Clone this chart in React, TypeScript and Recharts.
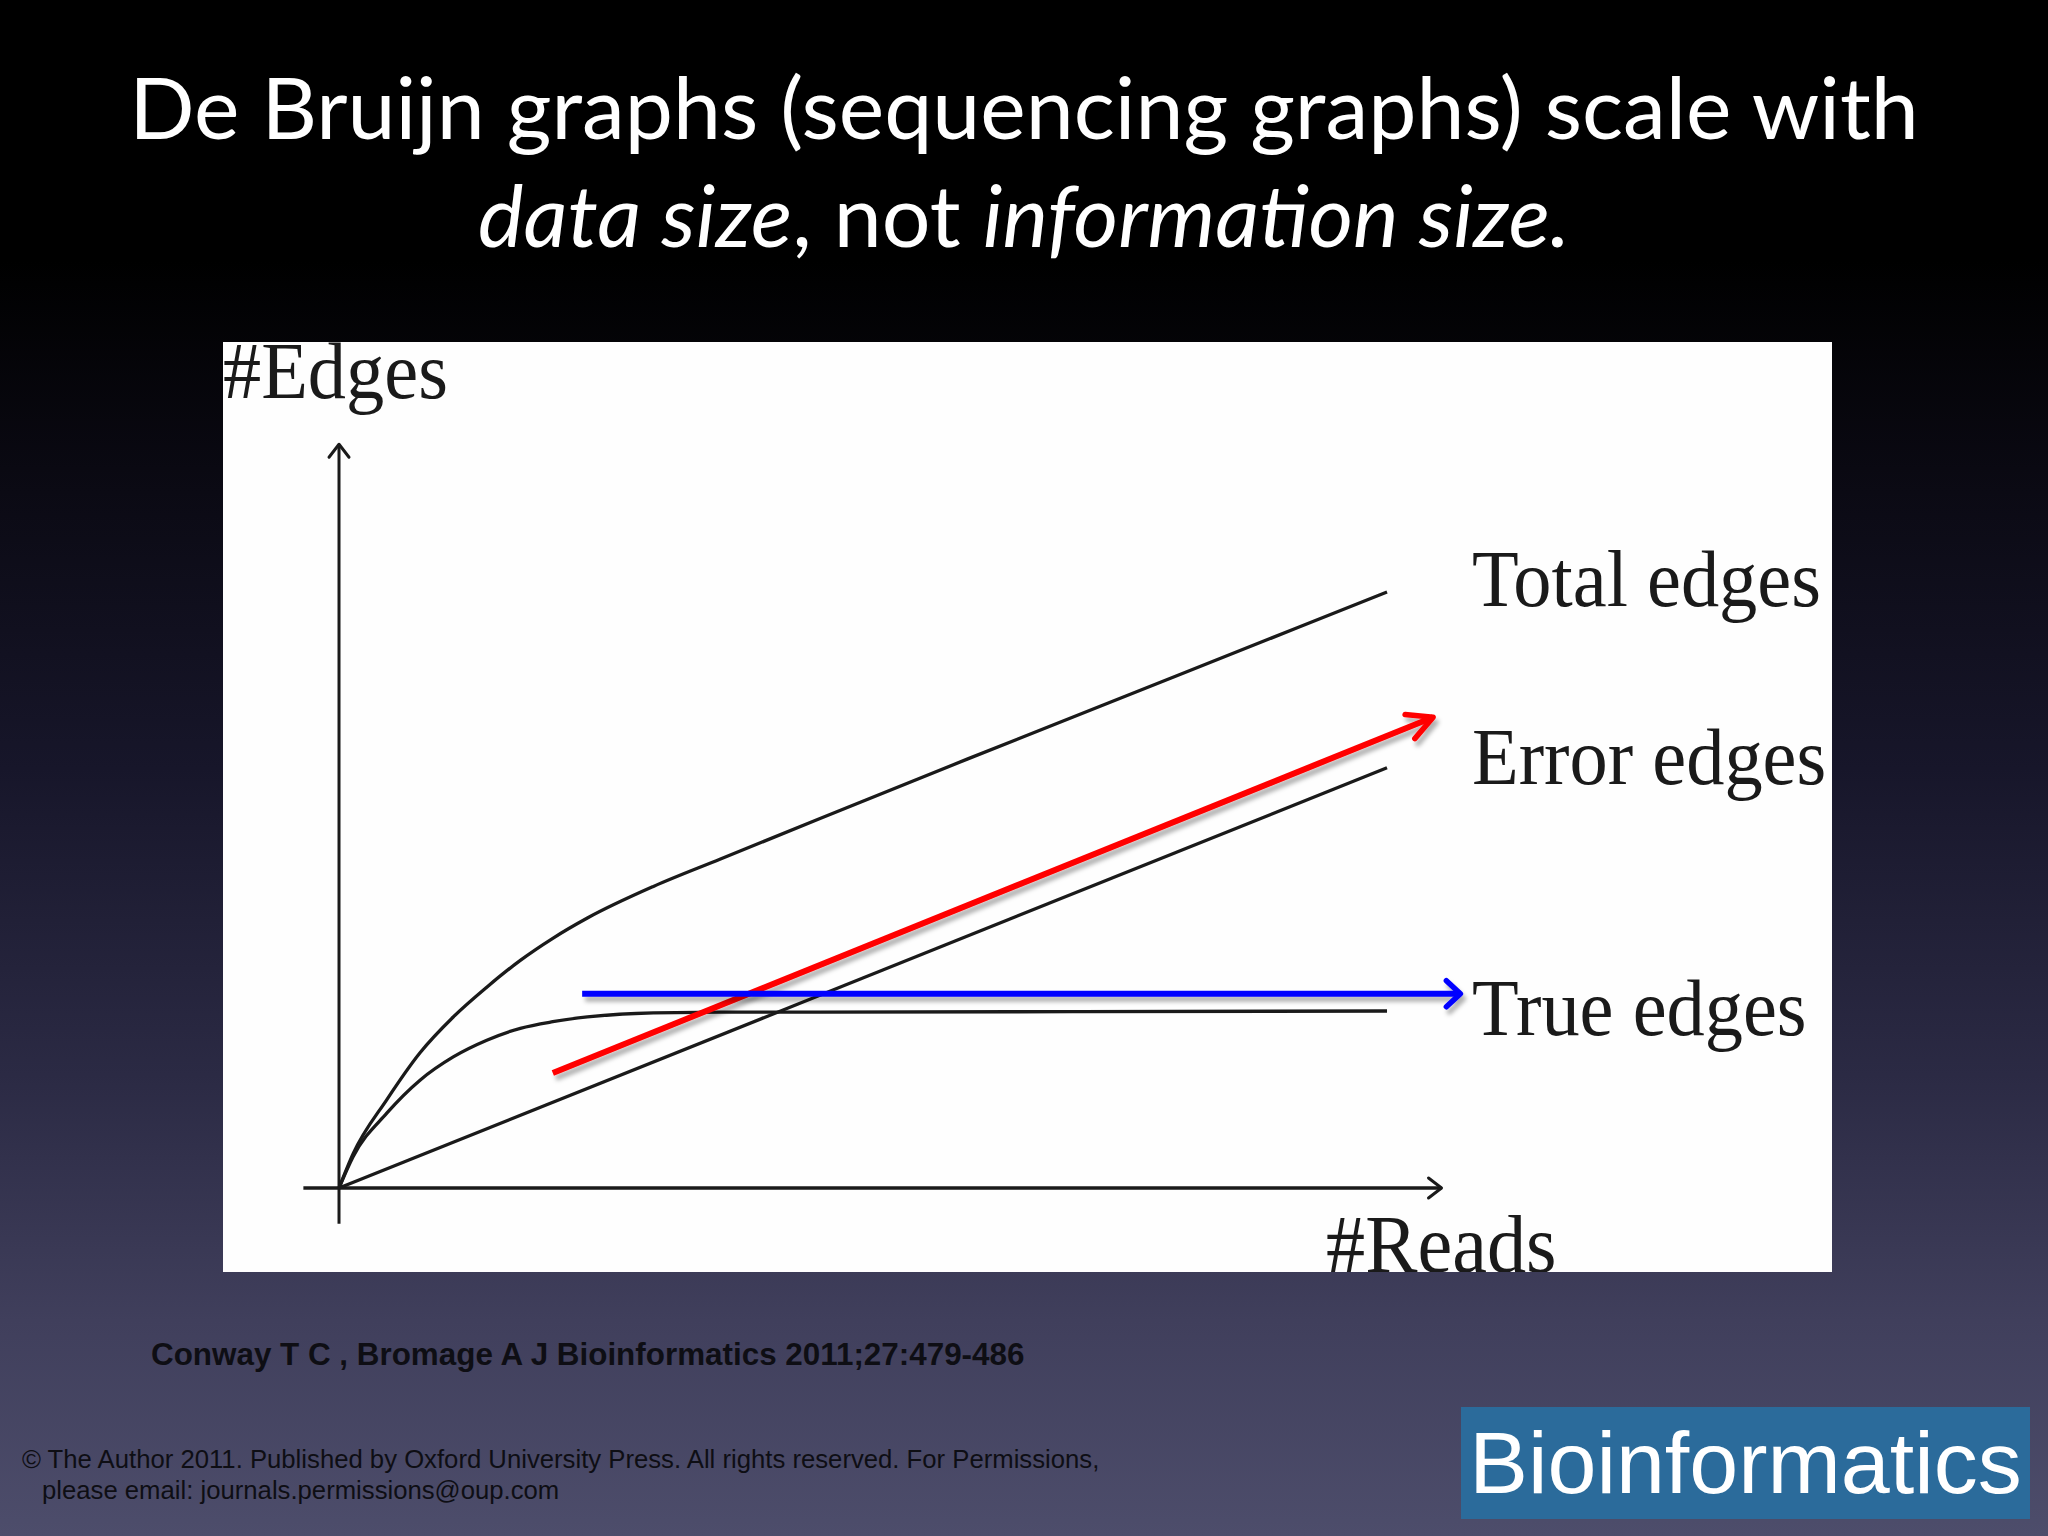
import React from 'react';
import { LineChart, Line, XAxis, YAxis } from 'recharts';

// reads (x) and edges (y), in units where the curves end at x=100 and total edges at y=100
const totalX = [0, 1.36, 4.55, 7.73, 10.9, 14.1, 17.3, 20.4, 23.7, 30.0, 36.4, 45.9, 60, 80, 100];
const totalY = [0, 5.8, 14.8, 22.7, 28.7, 33.7, 38.2, 41.9, 45.3, 50.6, 55.2, 62.0, 72.0, 86.0, 100];

const trueX = [0, 1.33, 4.58, 7.73, 10.9, 14.1, 17.3, 20.4, 23.7, 30.0, 36.4, 45.9, 70, 100];
const trueY = [0, 5.2, 12.6, 18.1, 22.0, 24.8, 26.8, 27.9, 28.7, 29.4, 29.5, 29.5, 29.6, 29.7];

const errorX = [0, 100];
const errorY = [0, 70.5];

// annotation arrows drawn over the figure
const redX = [20.4, 104.4];
const redY = [19.3, 79.0];
const blueX = [23.2, 107.0];
const blueY = [32.6, 32.6];

// axis lines (they cross a little past the origin)
const xAxisX = [-3.4, 105.2];
const xAxisY = [0, 0];
const yAxisX = [0, 0];
const yAxisY = [-6.0, 124.8];

const labels = ['Total edges', 'Error edges', 'True edges'];

const toRows = (xs: number[], ys: number[]) => xs.map((x, i) => ({ x, y: ys[i] }));

const serif = '"Liberation Serif", "Times New Roman", serif';
const sans = '"Liberation Sans", Arial, sans-serif';

const Chevron = ({ id, color, len, half, width }: { id: string; color: string; len: number; half: number; width: number }) => (
  <marker
    id={id}
    markerUnits="userSpaceOnUse"
    viewBox="-40 -30 50 60"
    markerWidth={50}
    markerHeight={60}
    refX={0}
    refY={0}
    orient="auto"
  >
    <path
      d={`M${-len},${-half} L0,0 L${-len},${half}`}
      fill="none"
      stroke={color}
      strokeWidth={width}
      strokeLinecap="round"
      strokeLinejoin="round"
    />
  </marker>
);

const App: React.FC = () => {
  const ink = '#1a1a1a';
  return (
    <div
      style={{
        position: 'absolute',
        left: 0,
        top: 0,
        width: 2048,
        height: 1536,
        overflow: 'hidden',
        background:
          'linear-gradient(to bottom, #000 0%, #000 17%, #0b0a14 32%, #17162a 50%, #2b2a44 70%, #403f5c 86%, #4d4d6b 100%)',
        fontFamily: sans,
      }}
    >
      <div
        style={{
          position: 'absolute',
          top: 52,
          left: 0,
          width: 2048,
          textAlign: 'center',
          color: '#fff',
          fontFamily: 'Lato, "Open Sans", sans-serif',
          fontSize: 86,
          lineHeight: '108px',
        }}
      >
        <div>De Bruijn graphs (sequencing graphs) scale with</div>
        <div>
          <i>data size</i>, not <i>information size.</i>
        </div>
      </div>

      <div
        style={{
          position: 'absolute',
          left: 223,
          top: 342,
          width: 1609,
          height: 930,
          background: '#fefefe',
          overflow: 'hidden',
        }}
      >
        <LineChart width={1609} height={930} margin={{ top: 0, right: 0, bottom: 0, left: 0 }}>
          <defs>
            <Chevron id="headRed" color="#ff0000" len={25} half={13} width={5.5} />
            <Chevron id="headBlue" color="#0000ff" len={14} half={13} width={5.5} />
            <Chevron id="headAxis" color={ink} len={13} half={10} width={3} />
            <filter id="soft" filterUnits="userSpaceOnUse" x={0} y={0} width={1609} height={930}>
              <feDropShadow dx="3" dy="5" stdDeviation="2" floodColor="#000" floodOpacity="0.3" />
            </filter>
          </defs>
          <XAxis type="number" dataKey="x" domain={[-11.07, 142.46]} hide allowDataOverflow />
          <YAxis type="number" dataKey="y" domain={[-14.09, 141.95]} hide allowDataOverflow />

          <Line data={toRows(xAxisX, xAxisY)} dataKey="y" type="linear" stroke={ink} strokeWidth={3.6} dot={false} markerEnd="url(#headAxis)" isAnimationActive={false} />
          <Line data={toRows(yAxisX, yAxisY)} dataKey="y" type="linear" stroke={ink} strokeWidth={3} dot={false} markerEnd="url(#headAxis)" isAnimationActive={false} />

          <Line data={toRows(totalX, totalY)} dataKey="y" type="monotone" stroke={ink} strokeWidth={3.3} dot={false} isAnimationActive={false} />
          <Line data={toRows(trueX, trueY)} dataKey="y" type="monotone" stroke={ink} strokeWidth={3.3} dot={false} isAnimationActive={false} />
          <Line data={toRows(errorX, errorY)} dataKey="y" type="linear" stroke={ink} strokeWidth={3.3} dot={false} isAnimationActive={false} />

          <Line data={toRows(redX, redY)} dataKey="y" type="linear" stroke="#ff0000" strokeWidth={6} dot={false} markerEnd="url(#headRed)" filter="url(#soft)" isAnimationActive={false} />
          <Line data={toRows(blueX, blueY)} dataKey="y" type="linear" stroke="#0000ff" strokeWidth={6} dot={false} markerEnd="url(#headBlue)" filter="url(#soft)" isAnimationActive={false} />
        </LineChart>

        {[
          { text: '#Edges', left: 0, top: -17, size: 80 },
          { text: labels[0], left: 1249, top: 191, size: 80 },
          { text: labels[1], left: 1249, top: 369, size: 80 },
          { text: labels[2], left: 1249, top: 620, size: 80 },
          { text: '#Reads', left: 1103, top: 856, size: 82 },
        ].map((l) => (
          <div
            key={l.text}
            style={{
              position: 'absolute',
              left: l.left,
              top: l.top,
              fontFamily: serif,
              fontSize: l.size,
              lineHeight: 1.15,
              color: ink,
              whiteSpace: 'nowrap',
              transform: 'scaleX(0.955)',
              transformOrigin: 'left center',
            }}
          >
            {l.text}
          </div>
        ))}
      </div>

      <div
        style={{
          position: 'absolute',
          left: 151,
          top: 1337,
          fontSize: 31.4,
          fontWeight: 'bold',
          color: '#0e0e14',
          whiteSpace: 'nowrap',
        }}
      >
        Conway T C , Bromage A J Bioinformatics 2011;27:479-486
      </div>

      <div
        style={{
          position: 'absolute',
          left: 22,
          top: 1444,
          fontSize: 25.7,
          lineHeight: '31px',
          color: '#0e0e14',
          whiteSpace: 'nowrap',
        }}
      >
        <div>© The Author 2011. Published by Oxford University Press. All rights reserved. For Permissions,</div>
        <div style={{ paddingLeft: 20 }}>please email: journals.permissions@oup.com</div>
      </div>

      <div
        style={{
          position: 'absolute',
          left: 1461,
          top: 1407,
          width: 569,
          height: 112,
          background: '#2b6b9b',
          color: '#fff',
          fontSize: 88,
          lineHeight: '112px',
          textAlign: 'center',
          whiteSpace: 'nowrap',
        }}
      >
        Bioinformatics
      </div>
    </div>
  );
};

export default App;
